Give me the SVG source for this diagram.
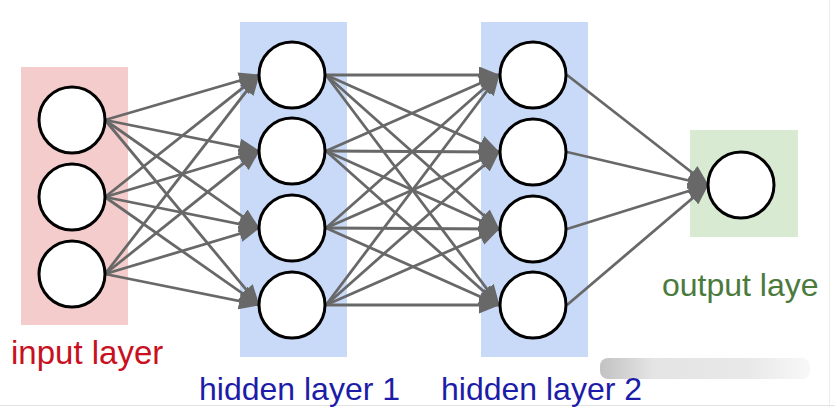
<svg xmlns="http://www.w3.org/2000/svg" width="835" height="407" viewBox="0 0 835 407">
<defs>
<style>
.node{fill:#ffffff;stroke:#000000;stroke-width:3}
.edge{stroke:#686868;stroke-width:2.8;fill:none;marker-end:url(#arr)}
.lbl{font-family:"Liberation Sans",Arial,sans-serif;font-size:32px}
</style>
<marker id="arr" markerUnits="userSpaceOnUse" markerWidth="21" markerHeight="17" refX="20" refY="8.5" orient="auto" viewBox="0 0 21 17">
<path d="M0,0 L21,8.5 L0,17 z" fill="#686868"/>
</marker>
<linearGradient id="wm" x1="0" y1="0" x2="1" y2="0">
<stop offset="0" stop-color="#c2c2c2"/>
<stop offset="0.25" stop-color="#e4e4e4"/>
<stop offset="0.7" stop-color="#e8e8e8"/>
<stop offset="1" stop-color="#f8f8f8"/>
</linearGradient>
</defs>
<rect width="835" height="407" fill="#ffffff"/>
<rect x="600" y="358" width="210" height="21" rx="8" fill="url(#wm)"/>
<line x1="0" y1="405.5" x2="835" y2="405.5" stroke="#e2e2e2" stroke-width="1"/>
<line x1="829.5" y1="0" x2="829.5" y2="407" stroke="#ececec" stroke-width="1"/>
<g id="layers">
<rect x="21" y="67" width="107" height="258" fill="#f4cccc"/>
<rect x="240" y="22" width="107" height="335" fill="#c9daf8"/>
<rect x="481" y="22" width="107" height="335" fill="#c9daf8"/>
<rect x="690" y="130" width="108" height="107" fill="#d9ead3"/>
</g>
<g id="connectors">
<path class="edge" d="M105,120 L259,75"/>
<path class="edge" d="M105,120 L259,151"/>
<path class="edge" d="M105,120 L259,228"/>
<path class="edge" d="M105,120 L259,305"/>
<path class="edge" d="M105,197 L259,75"/>
<path class="edge" d="M105,197 L259,151"/>
<path class="edge" d="M105,197 L259,228"/>
<path class="edge" d="M105,197 L259,305"/>
<path class="edge" d="M105,274 L259,75"/>
<path class="edge" d="M105,274 L259,151"/>
<path class="edge" d="M105,274 L259,228"/>
<path class="edge" d="M105,274 L259,305"/>
<path class="edge" d="M326,75 L499,75"/>
<path class="edge" d="M326,75 L499,152"/>
<path class="edge" d="M326,75 L499,229"/>
<path class="edge" d="M326,75 L499,305"/>
<path class="edge" d="M326,151 L499,75"/>
<path class="edge" d="M326,151 L499,152"/>
<path class="edge" d="M326,151 L499,229"/>
<path class="edge" d="M326,151 L499,305"/>
<path class="edge" d="M326,228 L499,75"/>
<path class="edge" d="M326,228 L499,152"/>
<path class="edge" d="M326,228 L499,229"/>
<path class="edge" d="M326,228 L499,305"/>
<path class="edge" d="M326,305 L499,75"/>
<path class="edge" d="M326,305 L499,152"/>
<path class="edge" d="M326,305 L499,229"/>
<path class="edge" d="M326,305 L499,305"/>
<path class="edge" d="M567,75 L708,185"/>
<path class="edge" d="M567,152 L708,185"/>
<path class="edge" d="M567,229 L708,185"/>
<path class="edge" d="M567,305 L708,185"/>
</g>
<g id="input-layer">
<circle class="node" id="in1" cx="72" cy="120" r="33"/>
<circle class="node" id="in2" cx="72" cy="197" r="33"/>
<circle class="node" id="in3" cx="72" cy="274" r="33"/>
<text class="lbl" x="11" y="364" fill="#c8101e" style="font-size:33px">input layer</text>
</g>
<g id="hidden-layer-1">
<circle class="node" id="h1a" cx="292" cy="75" r="33"/>
<circle class="node" id="h1b" cx="292" cy="151" r="33"/>
<circle class="node" id="h1c" cx="292" cy="228" r="33"/>
<circle class="node" id="h1d" cx="292" cy="305" r="33"/>
<text class="lbl" x="199" y="400" fill="#1c1ca8">hidden layer 1</text>
</g>
<g id="hidden-layer-2">
<circle class="node" id="h2a" cx="533" cy="75" r="33"/>
<circle class="node" id="h2b" cx="533" cy="152" r="33"/>
<circle class="node" id="h2c" cx="533" cy="229" r="33"/>
<circle class="node" id="h2d" cx="533" cy="305" r="33"/>
<text class="lbl" x="441" y="400" fill="#1c1ca8">hidden layer 2</text>
</g>
<g id="output-layer">
<circle class="node" id="out" cx="741" cy="185" r="33"/>
<text class="lbl" x="662" y="296" fill="#4a7a3c">output laye</text>
</g>
</svg>
